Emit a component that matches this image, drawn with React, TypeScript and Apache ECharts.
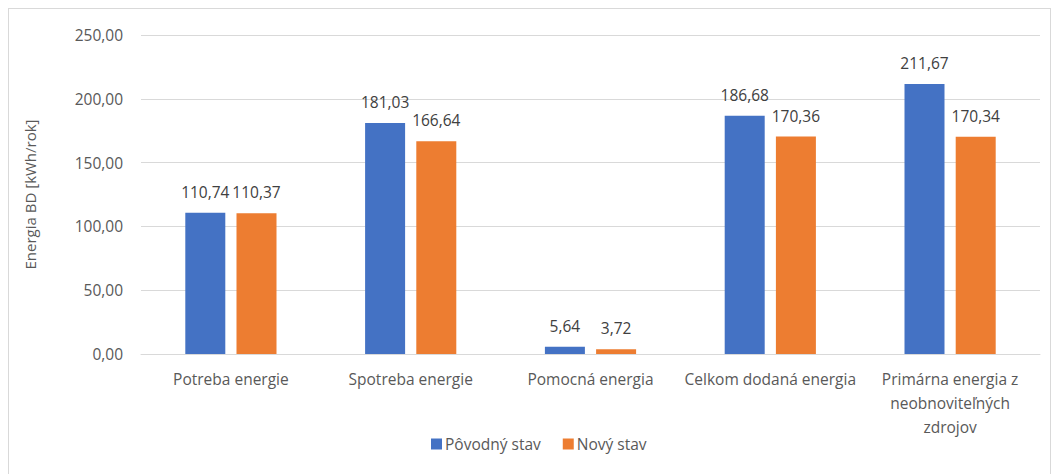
import React, { useEffect, useRef } from "react";
import * as echarts from "echarts";

const categories = [
  "Potreba energie",
  "Spotreba energie",
  "Pomocná energia",
  "Celkom dodaná energia",
  "Primárna energia z\nneobnoviteľných\nzdrojov",
];
const povodnyStav = [110.74, 181.03, 5.64, 186.68, 211.67];
const novyStav = [110.37, 166.64, 3.72, 170.36, 170.34];
const seriesNames = ["Pôvodný stav", "Nový stav"];
const yAxisTitle = "Energia BD [kWh/rok]";

const fmt = (v: number) => v.toFixed(2).replace(".", ",");
const FONT = "'Open Sans', 'Noto Sans', sans-serif";

export default function App() {
  const ref = useRef<HTMLDivElement>(null);
  useEffect(() => {
    if (!ref.current) return;
    const chart = echarts.init(ref.current, undefined, { renderer: "svg" });
    const labelCfg = {
      show: true,
      position: "top" as const,
      distance: 13,
      color: "#404040",
      fontSize: 15.5,
      fontFamily: FONT,
      formatter: (p: any) => fmt(p.value),
    };
    chart.setOption({
      animation: false,
      textStyle: { fontFamily: FONT },
      grid: { left: 132, right: 10, top: 26, height: 319, containLabel: false },
      legend: {
        data: seriesNames,
        left: 417,
        top: 422,
        itemWidth: 11,
        itemHeight: 11,
        itemGap: 22,
        icon: "rect",
        textStyle: { color: "#595959", fontSize: 15.5, fontFamily: FONT, padding: [0, 0, 0, -2] },
      },
      xAxis: {
        type: "category",
        data: categories,
        axisLine: { lineStyle: { color: "#d9d9d9", width: 1 } },
        axisTick: { show: false },
        axisLabel: {
          color: "#595959",
          fontSize: 15.5,
          fontFamily: FONT,
          margin: 13,
          lineHeight: 24,
          interval: 0,
        },
      },
      yAxis: {
        type: "value",
        min: 0,
        max: 250,
        interval: 50,
        name: yAxisTitle,
        nameLocation: "middle",
        nameGap: 104,
        nameTextStyle: { color: "#595959", fontSize: 15, fontFamily: FONT },
        axisLine: { show: false },
        axisTick: { show: false },
        splitLine: { lineStyle: { color: "#d9d9d9", width: 1 } },
        axisLabel: {
          color: "#595959",
          fontSize: 15.5,
          fontFamily: FONT,
          margin: 18,
          formatter: (v: number) => fmt(v),
        },
      },
      series: [
        {
          name: seriesNames[0],
          type: "bar",
          data: povodnyStav,
          barWidth: 40,
          barGap: "28%",
          itemStyle: { color: "#4472C4" },
          label: labelCfg,
        },
        {
          name: seriesNames[1],
          type: "bar",
          data: novyStav,
          barWidth: 40,
          itemStyle: { color: "#ED7D31" },
          label: labelCfg,
        },
      ],
    });
    return () => chart.dispose();
  }, []);
  return (
    <div style={{ width: 1041, height: 470, border: "1px solid #d9d9d9", borderBottom: "none", boxSizing: "content-box" }}>
      <div ref={ref} style={{ width: 1041, height: 470 }} />
    </div>
  );
}
